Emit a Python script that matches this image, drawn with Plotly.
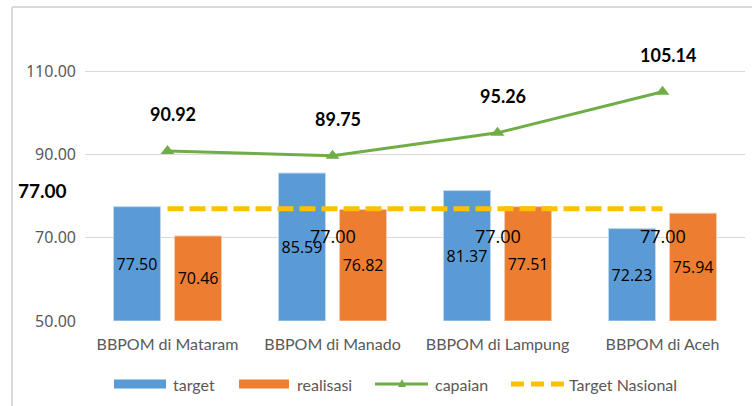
import plotly.graph_objects as go

# data
kategori = ["BBPOM di Mataram", "BBPOM di Manado", "BBPOM di Lampung", "BBPOM di Aceh"]
target = [77.50, 85.59, 81.37, 72.23]
realisasi = [70.46, 76.82, 77.51, 75.94]
capaian = [90.92, 89.75, 95.26, 105.14]
target_nasional = [77.00, 77.00, 77.00, 77.00]
y_ticks = [50, 70, 90, 110]
Y_MIN, Y_MAX = 50, 120

BIRU = "#5B9BD5"
ORANYE = "#ED7D31"
HIJAU = "#70AD47"
KUNING = "#FFC000"
ABU = "#D9D9D9"

# ukuran area plot (px) untuk konversi posisi legenda/bingkai
W, H = 752, 406
ML, MR, MT, MB = 85, 7, 30, 85
PW, PH = W - ML - MR, H - MT - MB


def px(x):
    return (x - ML) / PW


def py(y):
    return (H - MB - y) / PH


fig = go.Figure()

# batang dimulai dari minimum sumbu (seperti Excel), label di tengah bagian yang terlihat
fig.add_trace(go.Bar(
    x=kategori, y=[v - Y_MIN for v in target], base=Y_MIN, name="target",
    marker=dict(color=BIRU, line=dict(color="#BDD7EE", width=1)),
    text=[f"{v:.2f}" for v in target], textposition="inside",
    insidetextanchor="middle", textangle=0,
    textfont=dict(family="Open Sans", size=16, color="#000000"),
))
fig.add_trace(go.Bar(
    x=kategori, y=[v - Y_MIN for v in realisasi], base=Y_MIN, name="realisasi",
    marker=dict(color=ORANYE, line=dict(color="#F8CBAD", width=1)),
    text=[f"{v:.2f}" for v in realisasi], textposition="inside",
    insidetextanchor="middle", textangle=0,
    textfont=dict(family="Open Sans", size=16, color="#000000"),
))
fig.add_trace(go.Scatter(
    x=kategori, y=capaian, name="capaian", mode="lines+markers",
    line=dict(color=HIJAU, width=3),
    marker=dict(symbol="triangle-up", size=12, color=HIJAU),
))
fig.add_trace(go.Scatter(
    x=kategori, y=target_nasional, name="Target Nasional", mode="lines",
    line=dict(color=KUNING, width=5, dash="16px,6px"),
))

# label capaian (bold, di atas titik)
for k, v in zip(kategori, capaian):
    fig.add_annotation(
        x=k, y=v, text=f"<b>{v:.2f}</b>", showarrow=False,
        xshift=5, yshift=37,
        font=dict(family="Lato", size=18, color="#000000"),
    )

# label target nasional (posisi seperti di Excel)
geser_x = [-125, 0, 0, 0]
geser_y = [18, -27, -27, -27]
for i, (k, v) in enumerate(zip(kategori, target_nasional)):
    teks = f"<b>{v:.2f}</b>" if i == 0 else f"{v:.2f}"
    fig.add_annotation(
        x=k, y=v, text=teks, showarrow=False,
        xshift=geser_x[i], yshift=geser_y[i],
        font=dict(family="Open Sans" if i else "Lato", size=18 if i else 19, color="#000000"),
    )

# bingkai area chart (kiri & atas)
fig.add_shape(type="line", xref="paper", yref="paper",
              x0=px(12), x1=px(760), y0=py(7), y1=py(7),
              line=dict(color=ABU, width=2))
fig.add_shape(type="line", xref="paper", yref="paper",
              x0=px(12), x1=px(12), y0=py(7), y1=py(410),
              line=dict(color=ABU, width=2))

# legenda manual (meniru legenda Excel)
LY = 384
font_leg = dict(family="Lato", size=16, color="#595959")
fig.add_shape(type="rect", xref="paper", yref="paper",
              x0=px(114), x1=px(166), y0=py(LY - 4.5), y1=py(LY + 4.5),
              fillcolor=BIRU, line=dict(width=0))
fig.add_shape(type="rect", xref="paper", yref="paper",
              x0=px(239), x1=px(289), y0=py(LY - 4.5), y1=py(LY + 4.5),
              fillcolor=ORANYE, line=dict(width=0))
fig.add_shape(type="line", xref="paper", yref="paper",
              x0=px(375), x1=px(428), y0=py(LY), y1=py(LY),
              line=dict(color=HIJAU, width=3))
fig.add_shape(type="path", xref="paper", yref="paper",
              path=f"M {px(398)} {py(LY + 3)} L {px(406)} {py(LY + 3)} L {px(402)} {py(LY - 5)} Z",
              fillcolor=HIJAU, line=dict(width=0))
fig.add_shape(type="line", xref="paper", yref="paper",
              x0=px(511), x1=px(564), y0=py(LY), y1=py(LY),
              line=dict(color=KUNING, width=5, dash="13px,7px"))
for teks, xpos in [("target", 171), ("realisasi", 295), ("capaian", 433), ("Target Nasional", 567)]:
    fig.add_annotation(
        xref="paper", yref="paper", x=px(xpos), y=py(LY), text=teks,
        xanchor="left", yanchor="middle", showarrow=False, font=font_leg,
    )

fig.update_layout(
    width=W, height=H,
    margin=dict(l=ML, r=MR, t=MT, b=MB),
    paper_bgcolor="white", plot_bgcolor="white",
    barmode="group", bargap=0.26, bargroupgap=0.23,
    showlegend=False,
)
fig.update_yaxes(
    range=[Y_MIN, Y_MAX], tickvals=y_ticks, tickformat=".2f",
    showgrid=True, gridcolor=ABU, gridwidth=1, zeroline=False,
    showline=False, ticks="", ticklen=0, automargin=False,
    ticklabelstandoff=8,
    tickfont=dict(family="Noto Sans", size=16, color="#595959"),
)
fig.update_xaxes(
    range=[-0.5, 3.5], autorange=False,
    showgrid=False, showline=False, ticks="", automargin=False,
    ticklabelstandoff=12,
    tickfont=dict(family="Lato", size=16, color="#595959"),
)

# hilangkan margin bawaan <body> agar grafik mulai di pojok kiri atas
fig.write_html("out.html", config={"displayModeBar": False},
               post_script="document.body.style.margin='0';")
